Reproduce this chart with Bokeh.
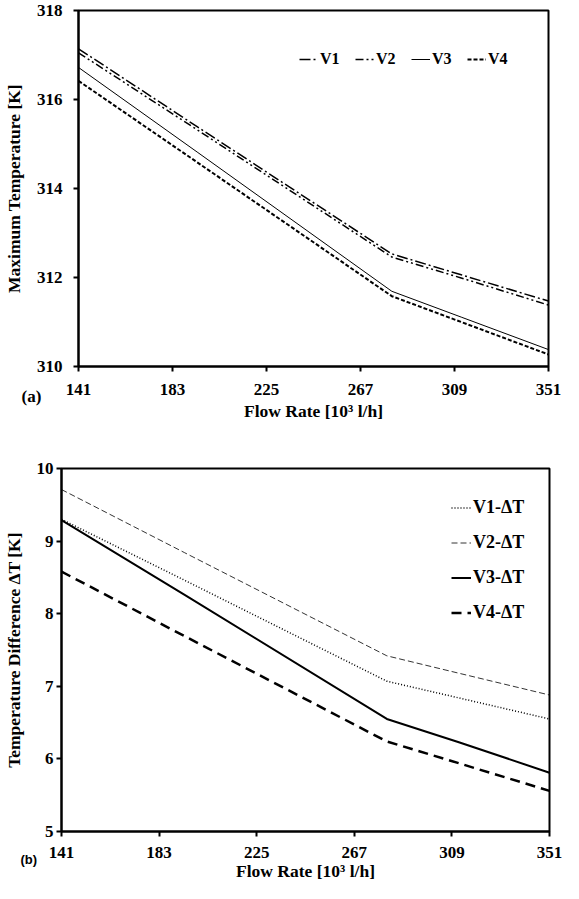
from bokeh.plotting import figure
from bokeh.models import Legend, LegendItem, Label, FixedTicker, Range1d
from bokeh.embed import file_html
from bokeh.resources import INLINE

# ---- data ----
flow = [141, 194, 281, 312, 351]
x_ticks = [141, 183, 225, 267, 309, 351]

v1_max = [317.14, 315.39, 312.53, 312.06, 311.47]
v2_max = [317.05, 315.32, 312.46, 311.99, 311.38]
v3_max = [316.72, 314.82, 311.69, 311.11, 310.38]
v4_max = [316.42, 314.59, 311.58, 311.00, 310.27]
max_ticks = [310, 312, 314, 316, 318]

v1_dt = [9.30, 8.46, 7.07, 6.84, 6.55]
v2_dt = [9.71, 8.84, 7.42, 7.18, 6.88]
v3_dt = [9.29, 8.26, 6.55, 6.23, 5.81]
v4_dt = [8.58, 7.69, 6.24, 5.94, 5.56]
dt_ticks = [5, 6, 7, 8, 9, 10]

labels_a = ["V1", "V2", "V3", "V4"]
labels_b = ["V1-ΔT", "V2-ΔT", "V3-ΔT", "V4-ΔT"]

SERIF = "Liberation Serif"


def style(p, ylabel, yticks, ystand, ytitle_stand, xstand, xtitle_stand):
    p.xgrid.visible = False
    p.ygrid.visible = False
    p.outline_line_color = "black"
    p.outline_line_width = 2
    p.background_fill_color = "white"
    p.border_fill_color = "white"
    for ax in (p.xaxis[0], p.yaxis[0]):
        ax.axis_line_width = 2
        ax.axis_line_color = "black"
        ax.major_tick_line_width = 2
        ax.major_tick_line_color = "black"
        ax.major_tick_out = 5
        ax.major_tick_in = 0
        ax.minor_tick_line_color = None
        ax.major_label_text_font = SERIF
        ax.major_label_text_font_style = "bold"
        ax.major_label_text_font_size = "17px"
        ax.major_label_text_color = "black"
        ax.axis_label_text_font = SERIF
        ax.axis_label_text_font_style = "bold"
        ax.axis_label_text_font_size = "17.5px"
        ax.axis_label_text_color = "black"
    p.xaxis[0].ticker = FixedTicker(ticks=x_ticks)
    p.yaxis[0].ticker = FixedTicker(ticks=yticks)
    p.xaxis[0].axis_label = "Flow Rate [10³ l/h]"
    p.yaxis[0].axis_label = ylabel
    p.yaxis[0].major_label_standoff = ystand
    p.yaxis[0].axis_label_standoff = ytitle_stand
    p.xaxis[0].major_label_standoff = xstand
    p.xaxis[0].axis_label_standoff = xtitle_stand


# ---- top chart ----
p1 = figure(width=563, height=446, output_backend="svg", toolbar_location=None,
            x_range=Range1d(141, 351), y_range=Range1d(310, 318),
            min_border_left=71, min_border_right=15, min_border_top=10,
            min_border_bottom=80)
style(p1, "Maximum Temperature [K]", max_ticks, 11, 10, 12, 3)

r1 = p1.line(flow, v1_max, line_color="black", line_width=1.5, line_dash="11 3 2 3")
r2 = p1.line(flow, v2_max, line_color="black", line_width=1.5, line_dash="8 3 2 3 2 3")
r3 = p1.line(flow, v3_max, line_color="black", line_width=1)
r4 = p1.line(flow, v4_max, line_color="black", line_width=2, line_dash="4 2")

leg1 = Legend(items=[LegendItem(label=labels_a[i], renderers=[r])
                     for i, r in enumerate([r1, r2, r3, r4])],
              orientation="horizontal", location=(221, 297),
              glyph_width=19, glyph_height=20, label_height=20,
              label_standoff=2, spacing=15, padding=0, margin=0,
              border_line_color=None, background_fill_alpha=0,
              label_text_font=SERIF, label_text_font_style="bold",
              label_text_font_size="16px", label_text_color="black")
p1.add_layout(leg1)
p1.add_layout(Label(x=-57, y=46, x_units="screen", y_units="screen", text="(a)",
                    text_font=SERIF, text_font_style="bold", text_font_size="17px",
                    text_baseline="middle", text_color="black"), "below")

# ---- bottom chart ----
p2 = figure(width=563, height=437, output_backend="svg", toolbar_location=None,
            x_range=Range1d(141, 351), y_range=Range1d(5, 10),
            min_border_left=55, min_border_right=14, min_border_top=22,
            min_border_bottom=52)
style(p2, "Temperature Difference ΔT [K]", dt_ticks, 3, 10, 10, 0)

s1 = p2.line(flow, v1_dt, line_color="black", line_width=1.5, line_dash="1 2")
s2 = p2.line(flow, v2_dt, line_color="black", line_width=0.8, line_dash="6 3")
s3 = p2.line(flow, v3_dt, line_color="black", line_width=2)
s4 = p2.line(flow, v4_dt, line_color="black", line_width=2.5, line_dash="10 6")

leg2 = Legend(items=[LegendItem(label=labels_b[i], renderers=[r])
                     for i, r in enumerate([s1, s2, s3, s4])],
              orientation="vertical", location=(390, 208),
              glyph_width=20, glyph_height=21, label_height=21,
              label_standoff=2, spacing=14, padding=0, margin=0,
              border_line_color=None, background_fill_alpha=0,
              label_text_font=SERIF, label_text_font_style="bold",
              label_text_font_size="18px", label_text_color="black")
p2.add_layout(leg2)
p2.add_layout(Label(x=-41, y=-391, x_units="screen", y_units="screen", text="(b)",
                    text_font="Liberation Sans", text_font_style="bold",
                    text_font_size="13px", text_baseline="middle", text_color="black"),
              "above")

open("out.html", "w").write(file_html([p1, p2], INLINE))
